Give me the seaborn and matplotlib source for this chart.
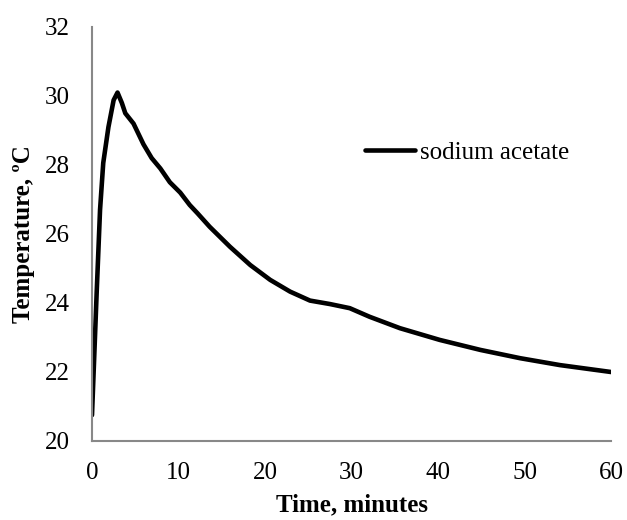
import matplotlib
matplotlib.use("Agg")
import matplotlib.pyplot as plt
import seaborn as sns
import pandas as pd

time_min = [0.0, 0.54, 0.93, 1.3, 1.9, 2.5, 2.95, 3.45, 3.85, 4.8, 5.95, 6.9, 7.9, 9.0,
            10.2, 11.3, 12.2, 13.6, 15.95, 18.3, 20.6, 22.9, 25.2, 27.5, 29.8, 32.1,
            35.6, 40.2, 44.9, 49.5, 54.1, 60.0]
temperature = [20.75, 24.3, 26.7, 28.06, 29.1, 29.88, 30.1, 29.8, 29.5, 29.2, 28.6, 28.2,
               27.9, 27.5, 27.2, 26.84, 26.6, 26.21, 25.63, 25.1, 24.67, 24.33, 24.07,
               23.97, 23.85, 23.6, 23.27, 22.93, 22.64, 22.4, 22.2, 22.0]
series_name = "sodium acetate"

df = pd.DataFrame({"Time": time_min, "Temperature": temperature, "series": series_name})

sns.set_theme(style="white")
plt.rcParams["font.family"] = ["Liberation Serif", "DejaVu Serif"]
plt.rcParams["text.color"] = "black"
plt.rcParams["axes.labelcolor"] = "black"
plt.rcParams["xtick.labelcolor"] = "black"
plt.rcParams["ytick.labelcolor"] = "black"

fig = plt.figure(figsize=(6.27, 5.2), dpi=100)
ax = fig.add_axes([92/627, 1-441/520, (611-92)/627, (441-27)/520])

sns.lineplot(data=df, x="Time", y="Temperature", hue="series", palette=["black"],
             linewidth=3.3, ax=ax, legend=True)
for ln in ax.get_lines():
    ln.set_solid_joinstyle("round")
    ln.set_solid_capstyle("round")

ax.set_xlim(0, 60)
ax.set_ylim(20, 32)
ax.set_xticks(range(0, 61, 10))
ax.set_yticks(range(20, 33, 2))
ax.set_xlabel("Time, minutes", fontsize=18, fontweight="bold", labelpad=7, color="black")
ax.set_ylabel("Temperature, ºC", fontsize=18, fontweight="bold", labelpad=7, color="black")
ax.tick_params(axis="both", direction="in", length=5, width=1.2, color="#888888",
               labelsize=18, labelcolor="black")
ax.tick_params(axis="x", pad=15)
ax.tick_params(axis="y", pad=16)
for s in ["top", "right"]:
    ax.spines[s].set_visible(False)
for s in ["left", "bottom"]:
    ax.spines[s].set_color("#888888")
    ax.spines[s].set_linewidth(1.5)

leg = ax.legend(loc="center left", bbox_to_anchor=(0.526, 0.696), frameon=False,
                fontsize=18, handlelength=2.0, handletextpad=0.2,
                borderpad=0, borderaxespad=0)
leg.get_lines()[0].set_linewidth(3.3)
for t in leg.get_texts():
    t.set_color("black")

fig.savefig("out.png", dpi=100)
